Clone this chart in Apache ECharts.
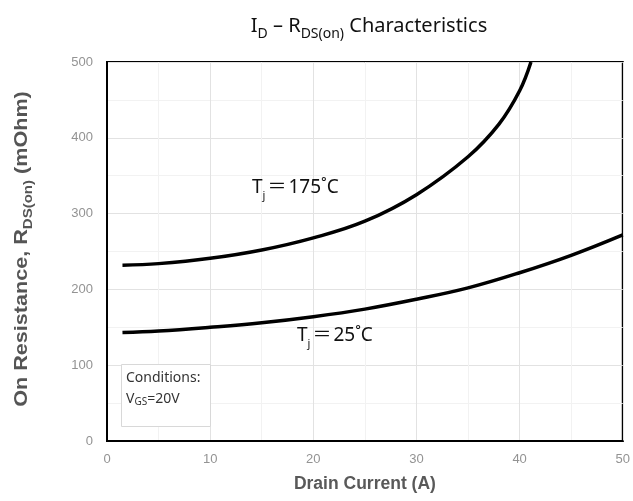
<!DOCTYPE html>
<html><head><meta charset="utf-8">
<script src="https://cdn.jsdelivr.net/npm/echarts@6/dist/echarts.min.js"></script>
<style>html,body{margin:0;padding:0;background:#fff}#c{width:633px;height:501px}</style>
</head><body><div id="c"></div>
<script>
// Data
const xTicks = [0, 10, 20, 30, 40, 50];
const yTicks = [0, 100, 200, 300, 400, 500];
const current25 = [1.5, 5, 10, 15, 20, 25, 30, 35, 40, 45, 50];
const rds25 = [143, 145, 150, 156, 164, 174, 187, 202, 222, 245, 272];
const current175 = [1.5, 5, 10, 15, 20, 25, 30, 35, 38, 40, 41.1];
const rds175 = [232, 234, 241, 252, 268, 290, 325, 375, 418, 462, 500];
const seriesNames = ['Tj=25°C', 'Tj=175°C'];

const pairs = (xs, ys) => xs.map((x, i) => [x, ys[i]]);
const fontMain = '"Noto Sans", "Open Sans", sans-serif';
const fontKr = '"Noto Sans", "Noto Sans CJK KR", sans-serif';
const fontAxis = '"Liberation Sans", Arial, sans-serif';

const chart = echarts.init(document.getElementById('c'), null, {renderer: 'canvas'});
chart.setOption({
  animation: false,
  backgroundColor: '#fff',
  title: {
    text: 'I{sub|D} – R{sub|DS(on)} Characteristics',
    left: 364, textAlign: 'center', top: 9,
    textStyle: {
      fontFamily: fontMain, fontSize: 20, fontWeight: 'normal', color: '#111',
      verticalAlign: 'top', lineHeight: 24,
      rich: {
        sub: {fontFamily: fontMain, fontSize: 14, color: '#111', lineHeight: 14, padding: [13, 0, 0, 0], verticalAlign: 'top'}
      }
    }
  },
  grid: {left: 107, right: 7, top: 62, bottom: 60, show: true, borderColor: '#000', borderWidth: 2, backgroundColor: 'transparent'},
  xAxis: {
    type: 'value', min: xTicks[0], max: xTicks[xTicks.length - 1], interval: 10,
    name: 'Drain Current (A)', nameLocation: 'middle', nameGap: 34,
    nameTextStyle: {fontFamily: fontAxis, fontSize: 17.5, fontWeight: 'bold', color: '#595959'},
    axisLine: {show: true, lineStyle: {color: '#000', width: 2}},
    axisTick: {show: false},
    axisLabel: {color: '#939393', fontFamily: fontAxis, fontSize: 13, margin: 12},
    splitLine: {show: true, lineStyle: {color: '#e2e2e2', width: 1}},
    minorTick: {show: false, splitNumber: 2},
    minorSplitLine: {show: true, lineStyle: {color: '#f2f2f2', width: 1}}
  },
  yAxis: {
    type: 'value', min: yTicks[0], max: yTicks[yTicks.length - 1], interval: 100,
    axisLine: {show: true, lineStyle: {color: '#000', width: 2}},
    axisTick: {show: false},
    axisLabel: {color: '#939393', fontFamily: fontAxis, fontSize: 13, margin: 14},
    splitLine: {show: true, lineStyle: {color: '#e2e2e2', width: 1}},
    minorTick: {show: false, splitNumber: 2},
    minorSplitLine: {show: true, lineStyle: {color: '#f2f2f2', width: 1}}
  },
  series: [
    {name: seriesNames[0], type: 'line', data: pairs(current25, rds25), smooth: 0.4, showSymbol: false, lineStyle: {color: '#000', width: 3.5}, z: 5},
    {name: seriesNames[1], type: 'line', data: pairs(current175, rds175), smooth: 0.4, showSymbol: false, lineStyle: {color: '#000', width: 3.5}, z: 5}
  ],
  graphic: [
    {type: 'text', x: 23, y: 249, rotation: Math.PI / 2, scaleX: 1.2, z: 11, style: {
      text: '{m|On Resistance, R}{s|DS(on)}{m| (mOhm)}', align: 'center', verticalAlign: 'middle',
      rich: {
        m: {fontFamily: fontAxis, fontSize: 18, fontWeight: 'bold', fill: '#555', lineHeight: 20, verticalAlign: 'top'},
        s: {fontFamily: fontAxis, fontSize: 12.5, fontWeight: 'bold', fill: '#555', lineHeight: 12, padding: [9, 0, 0, 0], verticalAlign: 'top'}
      }
    }},
    {type: 'rect', left: 121, top: 364, shape: {width: 89, height: 62}, style: {fill: '#fff', stroke: '#d8d8d8', lineWidth: 1}, z: 10},
    {type: 'text', left: 126, top: 371, z: 11, style: {text: 'Conditions:', font: '14px "Noto Sans", sans-serif', fill: '#333'}},
    {type: 'text', left: 126, top: 392, z: 11, style: {
      text: '{m|V}{s|GS}{m|=20V}',
      rich: {
        m: {fontFamily: fontMain, fontSize: 14, fill: '#333', lineHeight: 17, verticalAlign: 'top'},
        s: {fontFamily: fontMain, fontSize: 10, fill: '#333', lineHeight: 10, padding: [5, 0, 0, 0], verticalAlign: 'top'}
      }
    }},
    {type: 'text', left: 252, top: 178, z: 11, style: {
      text: '{m|T}{s|j}{e|＝}{m|175˚C}',
      rich: {
        m: {fontFamily: fontKr, fontSize: 19, fill: '#111', lineHeight: 22, verticalAlign: 'top'},
        e: {fontFamily: fontKr, fontSize: 19, fill: '#111', lineHeight: 22, verticalAlign: 'top', padding: [0, 2, 0, 2]},
        s: {fontFamily: fontMain, fontSize: 11, fill: '#111', lineHeight: 11, padding: [12, 0, 0, 0], verticalAlign: 'top'}
      }
    }},
    {type: 'text', left: 297, top: 326, z: 11, style: {
      text: '{m|T}{s|j}{e|＝}{m|25˚C}',
      rich: {
        m: {fontFamily: fontKr, fontSize: 19, fill: '#111', lineHeight: 22, verticalAlign: 'top'},
        e: {fontFamily: fontKr, fontSize: 19, fill: '#111', lineHeight: 22, verticalAlign: 'top', padding: [0, 2, 0, 2]},
        s: {fontFamily: fontMain, fontSize: 11, fill: '#111', lineHeight: 11, padding: [12, 0, 0, 0], verticalAlign: 'top'}
      }
    }}
  ]
});
</script></body></html>
